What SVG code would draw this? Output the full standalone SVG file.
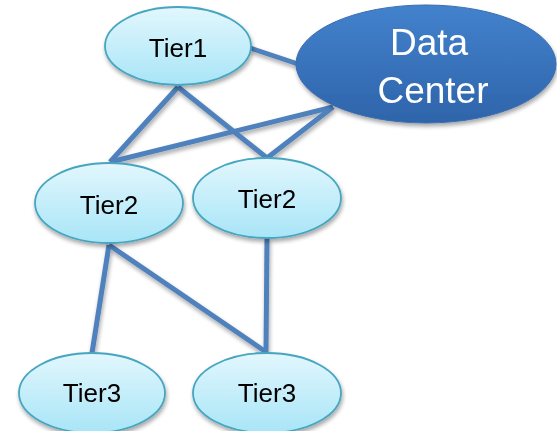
<svg xmlns="http://www.w3.org/2000/svg" width="557" height="431" viewBox="0 0 557 431">
<defs>
<linearGradient id="lg" x1="0" y1="0" x2="0" y2="1">
<stop offset="0" stop-color="#e2f7fd"/>
<stop offset="1" stop-color="#a8e5f7"/>
</linearGradient>
<linearGradient id="dg" x1="0" y1="0" x2="0" y2="1">
<stop offset="0" stop-color="#4382cd"/>
<stop offset="1" stop-color="#2e64aa"/>
</linearGradient>
<filter id="sh" x="-20%" y="-20%" width="140%" height="150%">
<feGaussianBlur in="SourceAlpha" stdDeviation="2"/>
<feOffset dx="1" dy="3" result="b"/>
<feComponentTransfer><feFuncA type="linear" slope="0.35"/></feComponentTransfer>
<feMerge><feMergeNode/><feMergeNode in="SourceGraphic"/></feMerge>
</filter>
</defs>
<style>
.e{fill:url(#lg);stroke:#46a5c0;stroke-width:1.8}
.dc{fill:url(#dg);stroke:#3a6db0;stroke-width:1}
.t{font-family:"Liberation Sans",Arial,sans-serif;font-size:26px;fill:#000;text-anchor:middle}
.dt{font-family:"Liberation Sans",Arial,sans-serif;font-size:37px;fill:#fff;text-anchor:middle}
.c line{stroke:#4f81bd;stroke-width:5;stroke-linecap:butt}
</style>
<g id="connectors" class="c" filter="url(#sh)">
<line x1="250" y1="48" x2="298" y2="64"/>
<line x1="178" y1="87" x2="110" y2="162"/>
<line x1="178" y1="87" x2="267" y2="158"/>
<line x1="333" y1="107" x2="110" y2="162"/>
<line x1="333" y1="107" x2="267" y2="158"/>
<line x1="109" y1="245" x2="92" y2="353"/>
<line x1="109" y1="245" x2="266" y2="352"/>
<line x1="267" y1="238" x2="266" y2="352"/>
</g>
<g id="tier1" filter="url(#sh)">
<ellipse class="e" cx="178" cy="46" rx="73" ry="39"/>
<text class="t" x="178" y="57">Tier1</text>
</g>
<g id="datacenter" filter="url(#sh)">
<ellipse class="dc" cx="426" cy="64" rx="130" ry="59"/>
<text class="dt" x="429" y="55">Data</text>
<text class="dt" x="433" y="103">Center</text>
</g>
<g id="tier2a" filter="url(#sh)">
<ellipse class="e" cx="109" cy="203" rx="74" ry="40"/>
<text class="t" x="109" y="214">Tier2</text>
</g>
<g id="tier2b" filter="url(#sh)">
<ellipse class="e" cx="267" cy="198" rx="74" ry="40"/>
<text class="t" x="267" y="208">Tier2</text>
</g>
<g id="tier3a" filter="url(#sh)">
<ellipse class="e" cx="92" cy="393" rx="73" ry="40"/>
<text class="t" x="92" y="402">Tier3</text>
</g>
<g id="tier3b" filter="url(#sh)">
<ellipse class="e" cx="267" cy="393" rx="74" ry="40"/>
<text class="t" x="267" y="402">Tier3</text>
</g>
</svg>
